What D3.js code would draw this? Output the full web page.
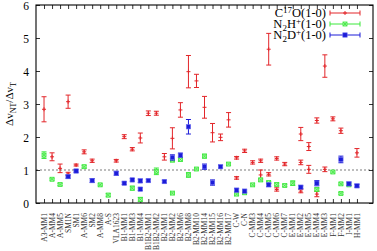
<!DOCTYPE html>
<html><head><meta charset="utf-8">
<script src="https://cdn.jsdelivr.net/npm/d3@7"></script>
<style>body{margin:0;background:#fff}</style>
</head><body><svg id="c" width="377" height="251"></svg>
<script>
const categories = ["A3-MM1","A-MM4","A-MM5","SM1N","SM1","A-MM6","SM2","A-MM8","A-S","VLA1623",
  "B1-MM1","B1-MM3","B1-MM4","B1B2-MM1","B1B2-MM2","B2-MM1","B2-MM2","B2-MM6","B2-MM8","B2-MM10",
  "B2-MM14","B2-MM15","B2-MM16","B2-MM17","C-W","C-N","C-MM3","C-MM4","C-MM5","C-MM6",
  "C-MM7","E-MM1","E-MM2","E-MM5","E-MM4","E-MM3","F-MM1","F-MM2","I-MM1","H-MM1"];
const c17o = [2.84,1.40,1.05,3.07,1.15,1.55,1.28,null,null,1.28,
  2.01,1.63,1.97,2.72,2.72,1.40,1.96,2.82,3.98,3.70,
  2.90,2.13,1.99,2.52,1.37,1.58,1.23,1.28,4.66,1.35,
  1.18,null,2.09,1.71,2.50,4.15,2.55,2.19,null,1.52];
const c17oErr = [0.38,0.12,0.13,0.20,0.03,0.06,0.05,null,null,0.04,
  0.06,0.05,0.15,0.07,0.06,0.10,0.32,0.22,0.49,0.20,
  0.33,0.28,0.10,0.22,0.04,0.05,0.05,0.05,0.48,0.05,
  0.05,null,0.20,0.12,0.08,0.34,0.06,0.08,null,0.13];
const n2h = [1.45,0.72,0.56,null,null,1.10,null,0.55,0.24,null,
  null,0.45,0.11,null,0.96,null,1.30,1.32,0.85,1.03,
  1.42,null,null,1.18,0.27,0.31,0.55,0.70,0.62,0.56,
  0.53,0.60,null,null,0.41,null,0.94,0.58,0.55,null];
const n2hErr = [0.10,0.03,0.03,null,null,0.04,null,0.03,0.05,null,
  null,0.06,0.06,null,0.10,null,0.05,0.05,0.07,0.03,
  0.06,null,null,0.04,0.04,0.03,0.03,0.05,0.03,0.04,
  0.03,0.07,null,null,0.04,null,0.03,0.03,0.03,null];
const n2d = [null,null,null,0.80,0.97,null,0.68,null,null,0.90,
  0.60,0.70,0.67,0.68,null,0.65,1.38,1.45,2.31,null,
  1.10,0.62,1.10,null,0.39,0.36,null,null,0.55,null,
  null,null,0.48,null,0.60,null,null,1.32,0.58,0.52];
const n2dErr = [null,null,null,0.05,0.04,null,0.06,null,null,0.06,
  0.04,0.04,0.05,0.04,null,0.04,0.08,0.06,0.22,null,
  0.08,0.08,0.04,null,0.05,0.04,null,null,0.05,null,
  null,null,0.04,null,0.08,null,null,0.10,0.05,0.04];
// additional components plotted at the same source
const c17oExtraCat = ["SM1N","C-W","C-MM4","C-MM5","C-MM6","E-MM2","E-MM2","E-MM5","E-MM4","E-MM3"];
const c17oExtraVal = [0.88,0.76,0.85,0.87,0.41,1.23,0.36,1.02,0.27,1.02];
const c17oExtraErr = [0.05,0.04,0.15,0.05,0.05,0.07,0.05,0.12,0.08,0.07];
const n2hExtraCat = ["B2-MM2","F-MM2"];
const n2hExtraVal = [0.30,0.29];
const n2hExtraErr = [0.03,0.03];
const n2dExtraCat = ["B1-MM4"];
const n2dExtraVal = [0.42];
const n2dExtraErr = [0.04];
const yTicks = [0,1,2,3,4,5,6];

const colors = {red:"#e3262a", green:"#3ae83a", blue:"#1c1cd8"};
const svg = d3.select("#c");
const L=36, R=373, T=5, B=203;
const x = d3.scaleLinear().domain([0, categories.length+2]).range([L, R]);
const y = d3.scaleLinear().domain([0, 6]).range([B, T]);
const cx = c => x(categories.indexOf(c)+1);
const font = "'Liberation Serif','Times New Roman',serif";

// dashed line at 1
svg.append("line").attr("x1",L).attr("x2",R).attr("y1",y(1)).attr("y2",y(1))
  .attr("stroke","#444").attr("stroke-width",0.7).attr("stroke-dasharray","2,2");

// axes
const catTicks = categories.map((c,i)=>i+1);
const gl = svg.append("g").attr("transform",`translate(${L},0)`)
  .call(d3.axisLeft(y).tickValues(yTicks).tickSize(-4).tickPadding(7).tickFormat(d3.format("d")));
const gr = svg.append("g").attr("transform",`translate(${R},0)`)
  .call(d3.axisRight(y).tickValues(yTicks).tickSize(-4).tickFormat(""));
const gb = svg.append("g").attr("transform",`translate(0,${B})`)
  .call(d3.axisBottom(x).tickValues(catTicks).tickSize(-4).tickFormat(""));
const gt = svg.append("g").attr("transform",`translate(0,${T})`)
  .call(d3.axisTop(x).tickValues(catTicks).tickSize(-4).tickFormat(""));
[gl,gr,gb,gt].forEach(g=>{g.select(".domain").remove(); g.selectAll("line").attr("stroke","#000").attr("stroke-width",0.8);});
gl.selectAll("text").attr("font-family",font).attr("font-size",11.5).attr("fill","#000").attr("dy","0.36em");
svg.append("rect").attr("x",L).attr("y",T).attr("width",R-L).attr("height",B-T)
  .attr("fill","none").attr("stroke","#000").attr("stroke-width",1.1);

// category labels
svg.append("g").selectAll("text").data(categories).join("text")
  .attr("transform",(d,i)=>`translate(${x(i+1)},213) rotate(-90)`)
  .attr("text-anchor","end").attr("dy","0.35em")
  .attr("font-family",font).attr("font-size",7.5).attr("fill","#333").text(d=>d);

// y label
const yl = svg.append("text").attr("transform",`translate(13,${(T+B)/2}) rotate(-90)`)
  .attr("text-anchor","middle").attr("font-family",font).attr("font-size",11).attr("fill","#000");
yl.append("tspan").text("Δv");
yl.append("tspan").attr("dy",3).attr("font-size",8).text("NT");
yl.append("tspan").attr("dy",-3).text("/Δv");
yl.append("tspan").attr("dy",3).attr("font-size",8).text("T");

function marker(g, px, py, kind){
  const col = colors[kind];
  if(kind==="red"){
    g.append("line").attr("x1",px-2).attr("x2",px+2).attr("y1",py).attr("y2",py).attr("stroke",col).attr("stroke-width",1);
    g.append("line").attr("x1",px).attr("x2",px).attr("y1",py-2).attr("y2",py+2).attr("stroke",col).attr("stroke-width",1);
  } else if(kind==="green"){
    g.append("rect").attr("x",px-2).attr("y",py-2).attr("width",4).attr("height",4).attr("fill","#aaf5aa").attr("stroke",col).attr("stroke-width",0.8);
    g.append("path").attr("d",`M${px-1.8},${py-1.8}L${px+1.8},${py+1.8}M${px-1.8},${py+1.8}L${px+1.8},${py-1.8}`).attr("stroke",col).attr("stroke-width",0.8);
  } else {
    g.append("rect").attr("x",px-2.2).attr("y",py-2.2).attr("width",4.4).attr("height",4.4).attr("fill",col).attr("stroke","#6f6ff0").attr("stroke-width",0.6);
  }
}
function errPoint(g, px, v, e, kind){
  const col = colors[kind];
  const y1 = y(v-e), y2 = y(v+e);
  g.append("line").attr("x1",px).attr("x2",px).attr("y1",y1).attr("y2",y2).attr("stroke",col).attr("stroke-width",1);
  [y1,y2].forEach(yy=>g.append("line").attr("x1",px-2.5).attr("x2",px+2.5).attr("y1",yy).attr("y2",yy).attr("stroke",col).attr("stroke-width",1));
  marker(g, px, y(v), kind);
}
const gp = svg.append("g");
function drawSeries(vals, errs, xc, xv, xe, kind){
  vals.forEach((v,i)=>{ if(v!=null) errPoint(gp, x(i+1), v, errs[i], kind); });
  xc.forEach((c,j)=>errPoint(gp, cx(c), xv[j], xe[j], kind));
}
drawSeries(c17o, c17oErr, c17oExtraCat, c17oExtraVal, c17oExtraErr, "red");
drawSeries(n2h, n2hErr, n2hExtraCat, n2hExtraVal, n2hExtraErr, "green");
drawSeries(n2d, n2dErr, n2dExtraCat, n2dExtraVal, n2dExtraErr, "blue");

// legend
const kinds = ["red","green","blue"];
const lg = svg.append("g");
const rows = [13,24,35];
rows.forEach((ry,k)=>{
  const t = lg.append("text").attr("x",326).attr("y",ry+4).attr("text-anchor","end")
    .attr("font-family",font).attr("font-size",12.5).attr("fill","#000");
  if(k===0){
    t.append("tspan").text("C");
    t.append("tspan").attr("dy",-4.5).attr("font-size",9).text("17");
    t.append("tspan").attr("dy",4.5).text("O(1-0)");
  } else {
    t.append("tspan").text("N");
    t.append("tspan").attr("dy",3).attr("font-size",9).text("2");
    t.append("tspan").attr("dy",-3).text(k===1?"H":"D");
    t.append("tspan").attr("dy",-4.5).attr("font-size",9).text("+");
    t.append("tspan").attr("dy",4.5).text("(1-0)");
  }
  const col = colors[kinds[k]];
  lg.append("line").attr("x1",330).attr("x2",360).attr("y1",ry).attr("y2",ry).attr("stroke",col).attr("stroke-width",1);
  [330,360].forEach(xx=>lg.append("line").attr("x1",xx).attr("x2",xx).attr("y1",ry-2.5).attr("y2",ry+2.5).attr("stroke",col).attr("stroke-width",1));
  marker(lg, 345, ry, kinds[k]);
});
</script>
</body></html>
